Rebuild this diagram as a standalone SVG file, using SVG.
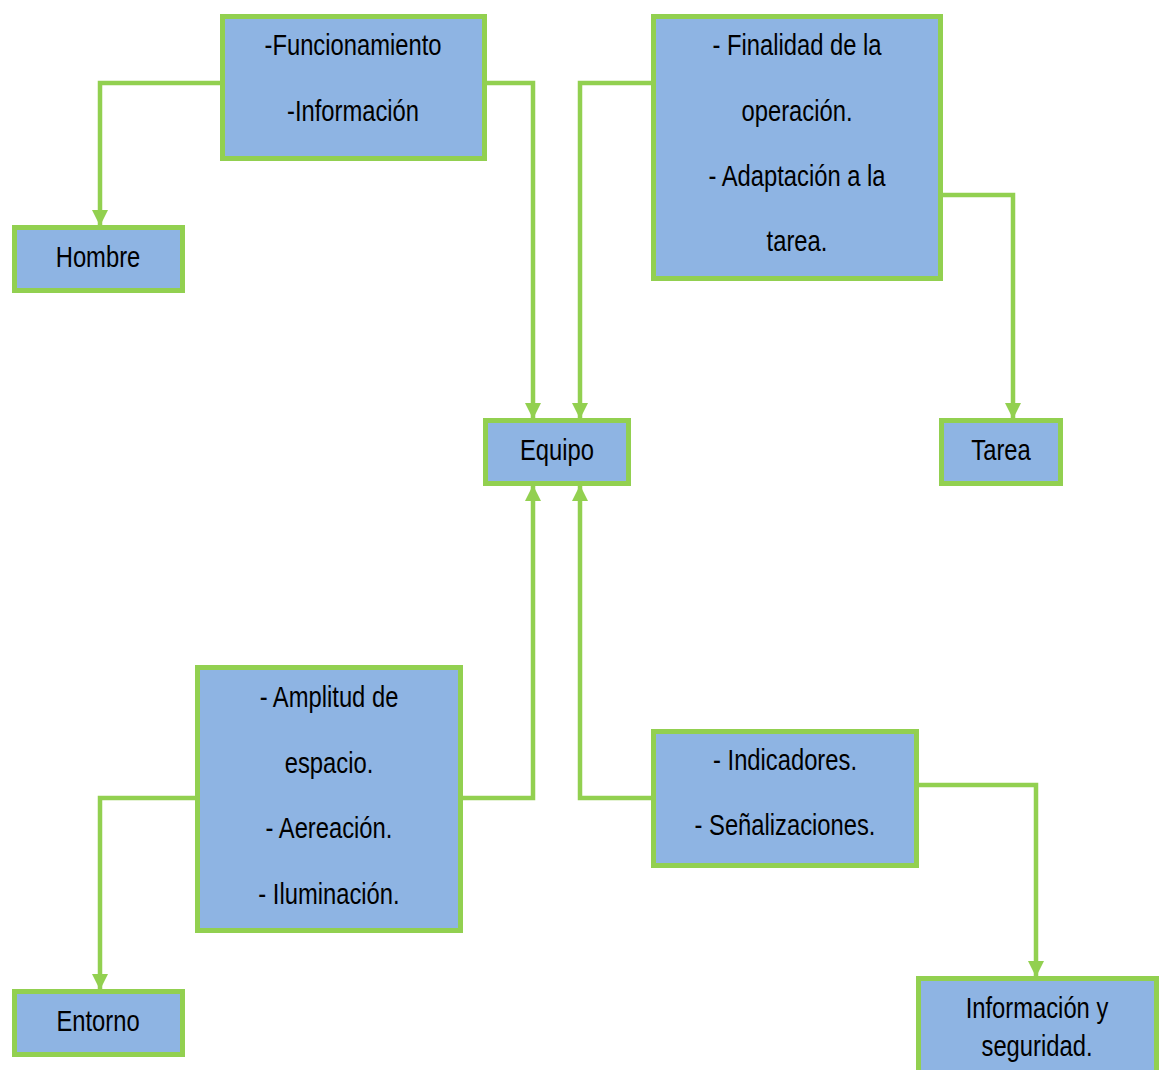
<svg xmlns="http://www.w3.org/2000/svg" width="1164" height="1070" viewBox="0 0 1164 1070">
<style>
.box{fill:#8EB4E3;stroke:#92D050;stroke-width:5}
.t{font-family:"Liberation Sans",Arial,sans-serif;font-size:29px;fill:#000;text-anchor:middle}
.c{fill:none;stroke:#92D050;stroke-width:4.5;marker-end:url(#ah)}
</style>
<defs>
<marker id="ah" markerUnits="userSpaceOnUse" markerWidth="16" markerHeight="16" viewBox="0 0 16 16" refX="16" refY="8" orient="auto">
<path d="M0,0 L16,8 L0,16 Z" fill="#92D050"/>
</marker>
</defs>
<rect width="1164" height="1070" fill="#fff"/>
<g id="connectors">
<path class="c" d="M222,83 H100 V226"/>
<path class="c" d="M484,83 H533 V419"/>
<path class="c" d="M653,83 H580 V419"/>
<path class="c" d="M940,195 H1013 V419"/>
<path class="c" d="M460,798 H533 V485"/>
<path class="c" d="M653,798 H580 V485"/>
<path class="c" d="M197,798 H100 V990"/>
<path class="c" d="M916,785 H1036 V977"/>
</g>
<g id="funcionamiento">
<rect class="box" x="222.5" y="16.5" width="262" height="142"/>
<text class="t" transform="translate(353 0) scale(0.82 1)" x="0" y="55">-Funcionamiento</text>
<text class="t" transform="translate(353 0) scale(0.82 1)" x="0" y="121">-Información</text>
</g>
<g id="hombre">
<rect class="box" x="14.5" y="227.5" width="168" height="63"/>
<text class="t" transform="translate(98 0) scale(0.82 1)" x="0" y="267">Hombre</text>
</g>
<g id="finalidad">
<rect class="box" x="653.5" y="16.5" width="287" height="262"/>
<text class="t" transform="translate(797 0) scale(0.82 1)" x="0" y="55">- Finalidad de la</text>
<text class="t" transform="translate(797 0) scale(0.82 1)" x="0" y="121">operación.</text>
<text class="t" transform="translate(797 0) scale(0.82 1)" x="0" y="186">- Adaptación a la</text>
<text class="t" transform="translate(797 0) scale(0.82 1)" x="0" y="251">tarea.</text>
</g>
<g id="equipo">
<rect class="box" x="485.5" y="420.5" width="143" height="63"/>
<text class="t" transform="translate(557 0) scale(0.82 1)" x="0" y="460">Equipo</text>
</g>
<g id="tarea">
<rect class="box" x="941.5" y="420.5" width="119" height="63"/>
<text class="t" transform="translate(1001 0) scale(0.82 1)" x="0" y="460">Tarea</text>
</g>
<g id="amplitud">
<rect class="box" x="197.5" y="667.5" width="263" height="263"/>
<text class="t" transform="translate(329 0) scale(0.82 1)" x="0" y="707">- Amplitud de</text>
<text class="t" transform="translate(329 0) scale(0.82 1)" x="0" y="773">espacio.</text>
<text class="t" transform="translate(329 0) scale(0.82 1)" x="0" y="838">- Aereación.</text>
<text class="t" transform="translate(329 0) scale(0.82 1)" x="0" y="904">- Iluminación.</text>
</g>
<g id="indicadores">
<rect class="box" x="653.5" y="731.5" width="263" height="134"/>
<text class="t" transform="translate(785 0) scale(0.82 1)" x="0" y="770">- Indicadores.</text>
<text class="t" transform="translate(785 0) scale(0.82 1)" x="0" y="835">- Señalizaciones.</text>
</g>
<g id="entorno">
<rect class="box" x="14.5" y="991.5" width="168" height="63"/>
<text class="t" transform="translate(98 0) scale(0.82 1)" x="0" y="1031">Entorno</text>
</g>
<g id="informacion">
<rect class="box" x="918.5" y="978.5" width="238" height="100"/>
<text class="t" transform="translate(1037 0) scale(0.82 1)" x="0" y="1018">Información y</text>
<text class="t" transform="translate(1037 0) scale(0.82 1)" x="0" y="1056">seguridad.</text>
</g>
</svg>
